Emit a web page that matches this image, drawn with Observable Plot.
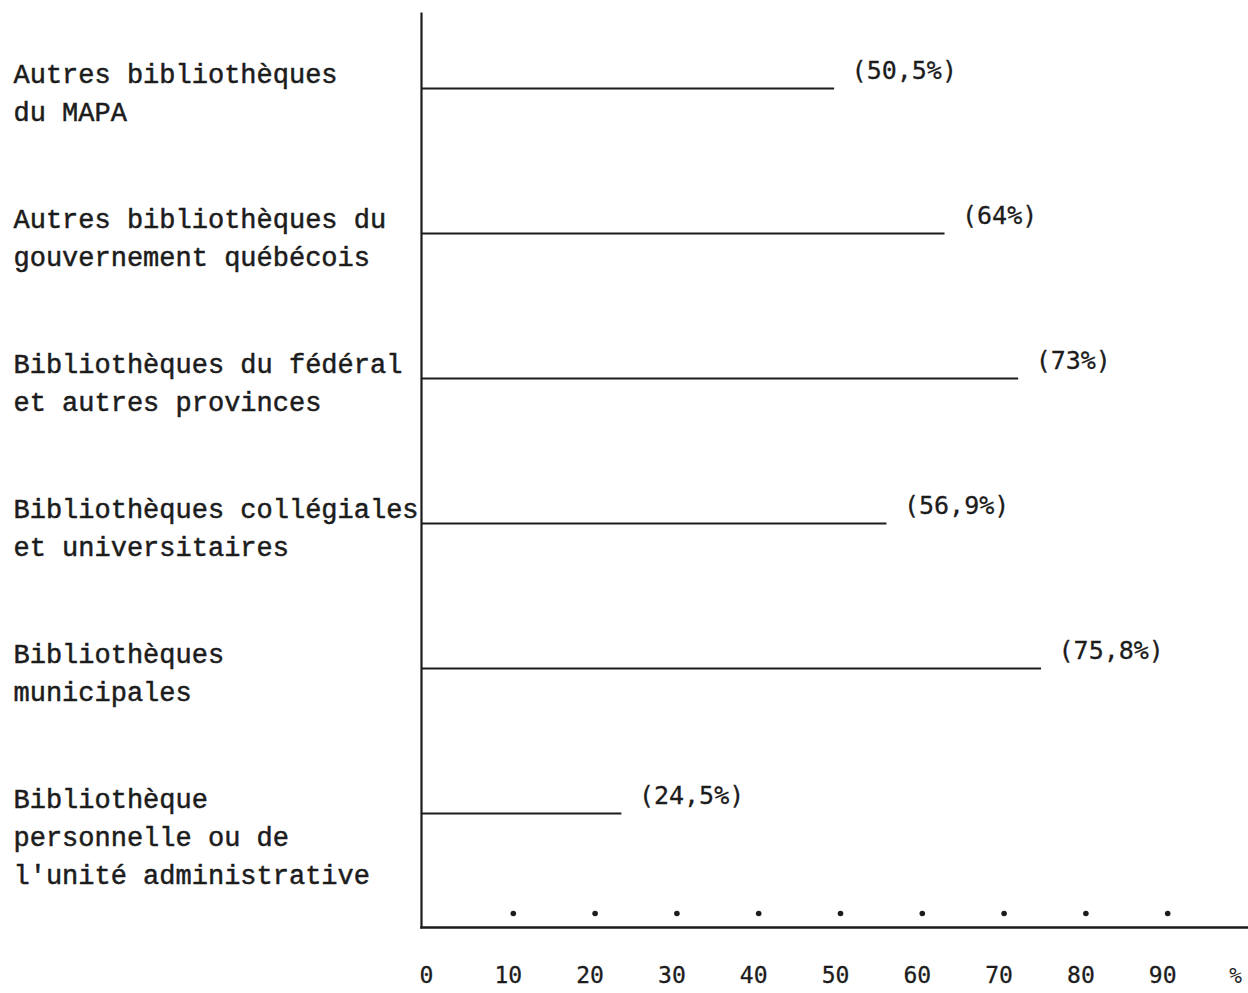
<!DOCTYPE html>
<html>
<head>
<meta charset="utf-8">
<script src="https://cdn.jsdelivr.net/npm/d3@7"></script>
<script src="https://cdn.jsdelivr.net/npm/@observablehq/plot@0.6"></script>
<style>
  html, body { margin: 0; padding: 0; background: #fff; }
  #chart svg { display: block; }
</style>
</head>
<body>
<div id="chart"></div>
<script>
const categories = [
  "Autres bibliothèques\ndu MAPA",
  "Autres bibliothèques du\ngouvernement québécois",
  "Bibliothèques du fédéral\net autres provinces",
  "Bibliothèques collégiales\net universitaires",
  "Bibliothèques\nmunicipales",
  "Bibliothèque\npersonnelle ou de\nl'unité administrative"
];
const values = [50.5, 64, 73, 56.9, 75.8, 24.5];
const valueLabels = ["(50,5%)", "(64%)", "(73%)", "(56,9%)", "(75,8%)", "(24,5%)"];
const tickValues = [0, 10, 20, 30, 40, 50, 60, 70, 80, 90];
const dotValues = [10, 20, 30, 40, 50, 60, 70, 80, 90];
const unitLabel = "%";
const unitPosition = 100;

const data = categories.map((c, i) => ({cat: c, value: values[i], label: valueLabels[i]}));

const ink = "#1c1c1c";
const mono = "'Liberation Mono', 'DejaVu Sans Mono', monospace";
const gothic = "'DejaVu Sans Mono', 'Liberation Mono', monospace";

const chart = Plot.plot({
  width: 1248,
  height: 993,
  marginTop: 13,
  marginBottom: 66,
  marginLeft: 421,
  marginRight: 0,
  style: {background: "#fff", color: ink, fontFamily: mono},
  x: {domain: [0, 100], range: [421, 1239], axis: null},
  y: {type: "point", domain: categories, range: [86, 815], padding: 0, axis: null},
  marks: [
    Plot.frame({anchor: "left", stroke: ink, strokeWidth: 2.2}),
    Plot.frame({anchor: "bottom", stroke: ink, strokeWidth: 2.4}),
    Plot.ruleY(data, {y: "cat", x1: 0, x2: "value", stroke: ink, strokeWidth: 2}),
    Plot.text(data, {
      y: "cat", text: "cat", frameAnchor: "left", textAnchor: "start",
      lineAnchor: "top", dx: -408, dy: -32, lineHeight: 1.4,
      fontSize: 27, fill: ink, stroke: ink, strokeWidth: 0.5, fontFamily: mono
    }),
    Plot.text(data, {
      y: "cat", x: "value", text: "label", textAnchor: "start",
      dx: 17, dy: -18, fontSize: 25, fill: ink, stroke: ink, strokeWidth: 0.3,
      fontFamily: gothic
    }),
    Plot.dot(dotValues, {x: d => d, frameAnchor: "bottom", dy: -14, dx: 10, r: 2.8, fill: ink, stroke: "none"}),
    Plot.text(tickValues, {
      x: d => d, text: d => String(d), frameAnchor: "bottom",
      dy: 55, dx: 5, fontSize: 23, fill: ink, stroke: ink, strokeWidth: 0.3,
      fontFamily: gothic
    }),
    Plot.text([unitPosition], {
      x: d => d, text: () => unitLabel, frameAnchor: "bottom",
      dy: 55, dx: -4, fontSize: 21, fill: ink, fontFamily: gothic
    })
  ]
});
document.getElementById("chart").append(chart);
</script>
</body>
</html>
